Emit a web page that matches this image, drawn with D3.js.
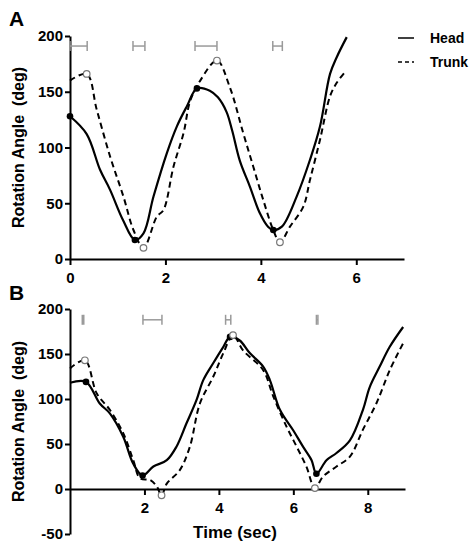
<!DOCTYPE html>
<html>
<head>
<meta charset="utf-8">
<script src="https://cdn.jsdelivr.net/npm/d3@7"></script>
<style>
  body { margin: 0; background: #fff; }
  text { font-family: "Liberation Sans", Arial, sans-serif; font-weight: bold; }
</style>
</head>
<body>
<div id="chart"></div>
<script>
// ---- panel A data (time sec, angle deg) ----
var headA = [[0,128],[0.35,112],[0.63,80],[0.84,62],[1.11,35],[1.36,17],[1.54,23],[1.75,56],[2.03,95],[2.24,119],
  [2.45,137],[2.66,153],[2.93,151],[3.1,145],[3.28,132],[3.4,115],[3.56,88],[3.77,65],[3.98,41],[4.15,29],[4.26,26],
  [4.44,29],[4.75,56],[5.03,89],[5.24,119],[5.45,166],[5.59,181],[5.8,199]];
var trunkA = [[0,160],[0.35,166],[0.56,134],[0.84,92],[1.12,56],[1.33,26],[1.54,10],[1.82,38],[1.96,44],[2.17,83],
  [2.38,113],[2.52,142],[2.73,160],[3.08,178],[3.35,154],[3.63,113],[3.84,83],[4.05,53],[4.26,26],[4.4,15],
  [4.61,29],[4.89,47],[5.03,71],[5.24,107],[5.45,146],[5.59,158],[5.77,168]];
var headMarksA = [[0,128],[1.36,17],[2.66,153],[4.26,26]];
var trunkMarksA = [[0.35,166],[1.54,10],[3.08,178],[4.4,15]];
var barsA = [[0,0.36],[1.32,1.57],[2.62,3.08],[4.25,4.45]];

// ---- panel B data ----
var headB = [[0,118],[0.43,119],[0.8,95],[1.07,84],[1.43,58],[1.7,28],[1.95,15],[2.24,25],[2.6,32],[2.86,47],
  [3.13,73],[3.4,99],[3.58,121],[3.85,140],[4.12,158],[4.3,169],[4.56,165],[4.83,151],[5.19,136],[5.37,121],
  [5.64,88],[6.0,65],[6.26,47],[6.49,32],[6.62,17],[6.89,32],[7.16,40],[7.52,54],[7.87,88],[8.05,113],
  [8.32,136],[8.59,158],[8.95,180]];
var trunkB = [[0,134],[0.4,143],[0.72,106],[1.07,88],[1.43,62],[1.7,32],[1.88,12],[2.15,10],[2.33,3],[2.46,-7],
  [2.6,6],[2.95,21],[3.22,47],[3.49,95],[3.85,125],[4.12,151],[4.38,171],[4.65,154],[5.19,132],[5.46,103],
  [5.82,69],[6.09,47],[6.35,25],[6.58,1],[6.8,14],[7.16,25],[7.52,36],[7.87,66],[8.23,95],[8.59,132],[8.95,162]];
var headMarksB = [[0.43,119],[1.95,15],[4.3,169],[6.62,17]];
var trunkMarksB = [[0.4,143],[2.46,-7],[4.38,171],[6.58,1]];
var barsB = [[0.33,0.37],[1.96,2.47],[4.18,4.32],[6.62,6.66]];

var ticksAx = [0,2,4,6], ticksAy = [0,50,100,150,200];
var ticksBx = [2,4,6,8], ticksBy = [-50,0,50,100,150,200];

var svg = d3.select("#chart").append("svg").attr("width", 473).attr("height", 544);

function panel(cfg) {
  var x = d3.scaleLinear().domain(cfg.xd).range([70, cfg.xr]);
  var y = d3.scaleLinear().domain(cfg.yd).range(cfg.yr);
  var g = svg.append("g");
  var fmt = function(d) { return String(d); };

  var yAxis = g.append("g").attr("transform", "translate(70,0)")
    .call(d3.axisLeft(y).tickValues(cfg.ty).tickFormat(fmt).tickSize(5).tickPadding(2).tickSizeOuter(0));
  var xAxis = g.append("g").attr("transform", "translate(0," + y(0) + ")")
    .call(d3.axisBottom(x).tickValues(cfg.tx).tickFormat(fmt).tickSize(6).tickPadding(cfg.xpad).tickSizeOuter(0));
  [xAxis, yAxis].forEach(function(a) {
    a.select(".domain").attr("stroke", "#000").attr("stroke-width", 2);
    a.selectAll(".tick line").attr("stroke", "#000").attr("stroke-width", 2);
    a.selectAll(".tick text").attr("fill", "#000").style("font-size", "15px").style("font-weight", "bold")
      .style("font-family", "Liberation Sans, Arial, sans-serif");
  });

  // gray interval bars
  var bg = g.append("g").attr("stroke", "#9a9a9a").attr("stroke-width", 1.5).attr("fill", "none");
  cfg.bars.forEach(function(b) {
    var yy = y(cfg.barY);
    bg.append("line").attr("x1", x(b[0])).attr("x2", x(b[1])).attr("y1", yy).attr("y2", yy);
    bg.append("line").attr("x1", x(b[0])).attr("x2", x(b[0])).attr("y1", yy - 5).attr("y2", yy + 5);
    bg.append("line").attr("x1", x(b[1])).attr("x2", x(b[1])).attr("y1", yy - 5).attr("y2", yy + 5);
  });

  var line = d3.line().x(function(d) { return x(d[0]); }).y(function(d) { return y(d[1]); })
    .curve(d3.curveCatmullRom.alpha(0.5));
  g.append("path").datum(cfg.trunk).attr("d", line).attr("fill", "none").attr("stroke", "#000")
    .attr("stroke-width", 2).attr("stroke-dasharray", "6,4");
  g.append("path").datum(cfg.head).attr("d", line).attr("fill", "none").attr("stroke", "#000")
    .attr("stroke-width", 2.2);

  g.selectAll(".hm").data(cfg.hm).enter().append("circle")
    .attr("cx", function(d) { return x(d[0]); }).attr("cy", function(d) { return y(d[1]); })
    .attr("r", 3.3).attr("fill", "#000");
  g.selectAll(".tm").data(cfg.tm).enter().append("circle")
    .attr("cx", function(d) { return x(d[0]); }).attr("cy", function(d) { return y(d[1]); })
    .attr("r", 3.3).attr("fill", "#fff").attr("stroke", "#777").attr("stroke-width", 1.2);

  // y title
  var my = (cfg.yr[0] + cfg.yr[1]) / 2;
  g.append("text").attr("transform", "translate(24," + my + ") rotate(-90)")
    .attr("text-anchor", "middle").style("font-size", "16px").attr("xml:space", "preserve")
    .text("Rotation Angle  (deg)");
  g.append("text").attr("x", 9).attr("y", cfg.labY).style("font-size", "21px").text(cfg.lab);
}

panel({ xd: [0, 7], xr: 404, yd: [0, 200], yr: [259, 36], tx: ticksAx, ty: ticksAy, xpad: 7,
  head: headA, trunk: trunkA, hm: headMarksA, tm: trunkMarksA, bars: barsA, barY: 191, lab: "A", labY: 26 });
panel({ xd: [0, 9], xr: 405, yd: [-50, 200], yr: [534, 309], tx: ticksBx, ty: ticksBy, xpad: 7,
  head: headB, trunk: trunkB, hm: headMarksB, tm: trunkMarksB, bars: barsB, barY: 188, lab: "B", labY: 300 });

svg.append("text").attr("x", 235).attr("y", 538).attr("text-anchor", "middle").style("font-size", "17px")
  .text("Time (sec)");

// legend
var leg = svg.append("g");
[["Head", null, 38], ["Trunk", "4,3", 62]].forEach(function(l) {
  leg.append("line").attr("x1", 398).attr("x2", 414).attr("y1", l[2]).attr("y2", l[2])
    .attr("stroke", "#000").attr("stroke-width", 1.5).attr("stroke-dasharray", l[1]);
  leg.append("text").attr("x", 430).attr("y", l[2] + 5).style("font-size", "14px").text(l[0]);
});
</script>
</body>
</html>
